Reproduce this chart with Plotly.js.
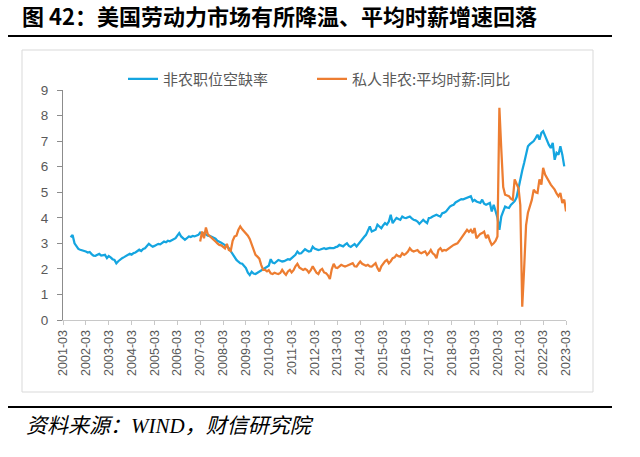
<!DOCTYPE html>
<html>
<head>
<meta charset="utf-8">
<script src="https://cdn.plot.ly/plotly-3.0.1.min.js"></script>
<style>html,body{margin:0;padding:0;background:#fff;}#chart{width:640px;height:457px;}</style>
</head>
<body>
<div id="chart"></div>
<script>
// ---- data ----
const seriesNames = ['非农职位空缺率', '私人非农:平均时薪:同比'];
const blueStart = '2001-07';
const blueValues = [
  3.24, 3.33, 3.0, 2.9, 2.78, 2.75,
  2.73, 2.72, 2.68, 2.64, 2.66, 2.58, 2.52, 2.51, 2.56, 2.59, 2.52, 2.55,
  2.55, 2.42, 2.5, 2.45, 2.38, 2.35, 2.22, 2.3, 2.37, 2.42, 2.46, 2.5,
  2.55, 2.59, 2.56, 2.62, 2.64, 2.68, 2.75, 2.7, 2.78, 2.81, 2.9, 2.98,
  2.92, 2.87, 2.9, 2.95, 2.98, 2.96, 3.02, 3.07, 3.04, 3.1, 3.08, 3.12,
  3.14, 3.2, 3.3, 3.4, 3.27, 3.2, 3.14, 3.2, 3.27, 3.25, 3.29, 3.27,
  3.3, 3.33, 3.42, 3.36, 3.4, 3.33, 3.3, 3.29, 3.26, 3.2, 3.18, 3.1,
  3.07, 3.02, 2.98, 2.94, 2.88, 2.81, 2.7, 2.55, 2.45, 2.35, 2.28, 2.22,
  2.2, 2.1, 2.03, 1.85, 1.76, 1.89, 1.82, 1.8, 1.85, 1.9, 1.95, 1.98,
  2.03, 2.1, 2.12, 2.38, 2.25, 2.22, 2.28, 2.35, 2.32, 2.29, 2.3, 2.33,
  2.38, 2.36, 2.42, 2.5, 2.55, 2.68, 2.6, 2.61, 2.7, 2.77, 2.72, 2.68,
  2.7, 2.87, 2.8, 2.78, 2.74, 2.76, 2.8, 2.81, 2.78, 2.8, 2.82, 2.81,
  2.81, 2.85, 2.87, 2.94, 2.9, 2.88, 2.95, 3.0, 2.9, 2.86, 2.92, 2.97,
  2.88, 2.98, 3.07, 3.2, 3.25, 3.33, 3.5, 3.66, 3.46, 3.5, 3.53, 3.73,
  3.65, 3.59, 3.7, 3.79, 3.73, 3.85, 4.12, 3.79, 3.9, 3.99, 3.95, 3.92,
  4.05, 4.0, 3.99, 4.02, 4.05, 3.98, 3.92, 3.9, 3.85, 3.76, 3.85, 3.92,
  3.85, 3.79, 3.99, 4.0, 4.05, 4.1, 4.12, 4.08, 4.05, 4.18, 4.2, 4.25,
  4.35, 4.44, 4.48, 4.51, 4.6, 4.65, 4.71, 4.73, 4.72, 4.75, 4.77, 4.8,
  4.84, 4.65, 4.7, 4.64, 4.6, 4.58, 4.71, 4.55, 4.51, 4.55, 4.58, 4.25,
  4.51, 4.25, 4.0, 3.53, 4.05, 4.25, 4.44, 4.4, 4.38, 4.5, 4.58, 4.65,
  4.8, 5.2, 5.49, 5.85, 6.14, 6.47, 6.8, 6.88, 6.93, 7.0, 7.12, 7.25,
  7.06, 7.32, 7.39, 7.19, 7.06, 6.85, 6.73, 6.93, 6.27, 6.54, 6.47, 6.8,
  6.47, 6.01
];
const orangeStart = '2007-03';
const orangeValues = [
  3.07, 3.46, 3.2, 3.62, 3.35, 3.27, 3.2, 3.14, 3.07, 3.0,
  2.94, 2.92, 2.87, 2.8, 2.98, 2.74, 2.7, 3.1, 3.27, 3.3, 3.53, 3.66,
  3.55, 3.47, 3.4, 3.3, 3.17, 2.95, 2.7, 2.55, 2.48, 2.4, 2.15, 1.96,
  1.96, 1.9, 1.95, 1.83, 1.8, 1.85, 1.82, 1.8, 1.84, 1.96, 1.85, 1.77,
  1.9, 1.96, 1.86, 1.95, 2.1, 2.2, 2.06, 2.0, 1.96, 2.0, 1.95, 1.85,
  1.95, 2.1, 2.0, 1.85, 1.8, 1.95, 2.0, 1.86, 1.83, 1.75, 1.6, 1.98,
  2.2, 2.05, 2.03, 2.1, 2.16, 2.12, 2.09, 2.12, 2.16, 2.2, 2.22, 2.1,
  2.09, 2.2, 2.29, 2.2, 2.16, 2.12, 2.16, 2.1, 2.09, 2.15, 2.22, 2.03,
  1.9, 2.1, 2.22, 2.3, 2.35, 2.22, 2.3, 2.42, 2.45, 2.55, 2.5, 2.48,
  2.61, 2.55, 2.6, 2.68, 2.81, 2.72, 2.68, 2.7, 2.74, 2.65, 2.61, 2.65,
  2.68, 2.55, 2.62, 2.74, 2.61, 2.55, 2.42, 2.74, 2.81, 2.7, 2.74, 2.72,
  2.78, 2.85, 2.9, 2.94, 2.97, 3.0, 3.1, 3.2, 3.3, 3.4, 3.53, 3.45,
  3.53, 3.4, 3.6, 3.2, 3.3, 3.37, 3.4, 3.46, 3.2, 3.33, 3.1, 2.94,
  3.0, 3.1, 3.27, 8.3, 6.7, 5.2, 4.9, 4.86, 4.84, 4.75, 4.7, 5.5,
  5.3, 5.15, 4.5, 0.52, 2.0, 3.7, 4.2, 4.44, 4.7, 5.1, 5.0, 4.97,
  5.5, 5.3, 5.95, 5.69, 5.56, 5.4, 5.3, 5.2, 5.1, 4.95, 4.84, 4.97,
  4.58, 4.71, 4.25
];
const tickLabels = ['2001-03','2002-03','2003-03','2004-03','2005-03','2006-03','2007-03','2008-03',
  '2009-03','2010-03','2011-03','2012-03','2013-03','2014-03','2015-03','2016-03','2017-03','2018-03',
  '2019-03','2020-03','2021-03','2022-03','2023-03'];
const titleText = '图 42：美国劳动力市场有所降温、平均时薪增速回落';
const sourceText = '资料来源：WIND，财信研究院';

// ---- helpers ----
function monthDates(start, n) {
  let [y, m] = start.split('-').map(Number);
  const out = [];
  for (let i = 0; i < n; i++) {
    out.push(y + '-' + String(m).padStart(2, '0') + '-01');
    m++; if (m > 12) { m = 1; y++; }
  }
  return out;
}
const tickVals = tickLabels.map(t => t + '-01');

// ---- geometry (pixels) ----
const W = 640, H = 457;
const L = 63, R = 566, T = 90, B = 320;
const px = x => (x - L) / (R - L);
const py = y => (B - y) / (B - T);

const traces = [
  { type: 'scatter', mode: 'lines', name: seriesNames[0], legend: 'legend',
    x: monthDates(blueStart, blueValues.length), y: blueValues,
    line: { color: '#14A5E0', width: 2.25 } },
  { type: 'scatter', mode: 'lines', name: seriesNames[1], legend: 'legend2',
    x: monthDates(orangeStart, orangeValues.length), y: orangeValues,
    line: { color: '#ED7D31', width: 2.25 } }
];

const legendBase = { orientation: 'h', xanchor: 'left', y: 1 + (T - 79) / (B - T), yanchor: 'middle',
  font: { size: 15, color: '#595959' }, bgcolor: 'rgba(0,0,0,0)' };

const layout = {
  width: W, height: H,
  paper_bgcolor: '#ffffff', plot_bgcolor: '#ffffff',
  margin: { l: L, r: W - R, t: T, b: H - B, pad: 0 },
  font: { family: '"Noto Sans CJK SC", "Liberation Sans", sans-serif', color: '#595959' },
  title: { text: titleText, xref: 'container', yref: 'container',
    x: 22 / W, xanchor: 'left', y: 1 - 17 / H, yanchor: 'middle',
    font: { size: 22, color: '#000000', weight: 700, family: '"Noto Sans CJK SC", sans-serif' } },
  showlegend: true,
  legend: Object.assign({}, legendBase, { x: px(123) }),
  legend2: Object.assign({}, legendBase, { x: px(312) }),
  xaxis: {
    type: 'date', range: ['2001-03-01', '2023-03-01'],
    tickmode: 'array', tickvals: tickVals, ticktext: tickLabels, tickangle: -90,
    ticks: 'outside', ticklen: 4, tickcolor: '#c8c8c8', tickwidth: 1,
    showline: true, linecolor: '#c8c8c8', linewidth: 1,
    showgrid: false, zeroline: false,
    tickfont: { size: 12.5, color: '#595959', family: '"Liberation Sans", sans-serif' }
  },
  yaxis: {
    range: [0, 9], dtick: 1, tick0: 0,
    ticks: 'outside', ticklen: 5, tickcolor: '#8c8c8c', tickwidth: 1,
    showline: true, linecolor: '#8c8c8c', linewidth: 1,
    showgrid: false, zeroline: false, ticklabelstandoff: 6,
    tickfont: { size: 13.5, color: '#595959', family: '"Liberation Sans", sans-serif' }
  },
  shapes: [
    { type: 'rect', xref: 'paper', yref: 'paper', x0: px(22), x1: px(593), y0: py(392), y1: py(50),
      line: { color: '#d9d9d9', width: 1 }, fillcolor: 'rgba(0,0,0,0)', layer: 'below' },
    { type: 'line', xref: 'paper', yref: 'paper', x0: px(8), x1: px(612), y0: py(36), y1: py(36),
      line: { color: '#000000', width: 2 } },
    { type: 'line', xref: 'paper', yref: 'paper', x0: px(8), x1: px(612), y0: py(407), y1: py(407),
      line: { color: '#000000', width: 2 } }
  ],
  annotations: [
    { xref: 'paper', yref: 'paper', x: px(24), xanchor: 'left', y: py(426), yanchor: 'middle',
      text: sourceText, showarrow: false,
      font: { size: 21, color: '#000000', style: 'italic', family: '"Liberation Serif", "Noto Sans CJK SC", serif' } }
  ]
};

Plotly.newPlot('chart', traces, layout, { displayModeBar: false, staticPlot: true });
</script>
</body>
</html>
